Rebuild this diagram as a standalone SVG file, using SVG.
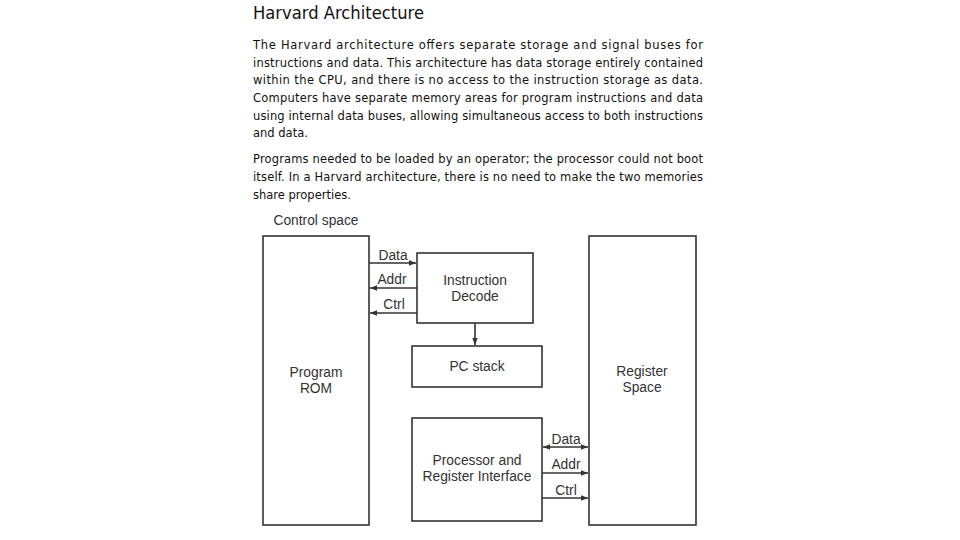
<svg xmlns="http://www.w3.org/2000/svg" width="960" height="540" viewBox="0 0 960 540">
<style>
.t{font-family:"DejaVu Sans","Liberation Sans",sans-serif;font-size:11.5px;fill:#111}
.h{font-family:"DejaVu Sans","Liberation Sans",sans-serif;font-size:17.5px;fill:#111}
.l{font-family:"Liberation Sans",Arial,sans-serif;font-size:13.8px;fill:#333;text-anchor:middle}
.box{fill:#fff;stroke:#333;stroke-width:1.6}
.c{stroke:#333;stroke-width:1.6;fill:none}
</style>
<defs>
<marker id="ah" markerWidth="8" markerHeight="8" refX="7" refY="4" orient="auto-start-reverse" markerUnits="userSpaceOnUse">
<path d="M0,1.3 L7,4 L0,6.7 Z" fill="#333"/>
</marker>
</defs>
<rect width="960" height="540" fill="#fff"/>
<text class="h" x="253" y="19" textLength="171" lengthAdjust="spacingAndGlyphs">Harvard Architecture</text>
<g id="paragraph">
<text class="t" x="253" y="49" textLength="450" lengthAdjust="spacing">The Harvard architecture offers separate storage and signal buses for</text>
<text class="t" x="253" y="66.5" textLength="450" lengthAdjust="spacing">instructions and data. This architecture has data storage entirely contained</text>
<text class="t" x="253" y="84" textLength="450" lengthAdjust="spacing">within the CPU, and there is no access to the instruction storage as data.</text>
<text class="t" x="253" y="102" textLength="450" lengthAdjust="spacing">Computers have separate memory areas for program instructions and data</text>
<text class="t" x="253" y="120" textLength="450" lengthAdjust="spacing">using internal data buses, allowing simultaneous access to both instructions</text>
<text class="t" x="253" y="137">and data.</text>
<text class="t" x="253" y="163" textLength="450" lengthAdjust="spacing">Programs needed to be loaded by an operator; the processor could not boot</text>
<text class="t" x="253" y="181" textLength="450" lengthAdjust="spacing">itself. In a Harvard architecture, there is no need to make the two memories</text>
<text class="t" x="253" y="199">share properties.</text>
</g>
<text class="l" x="316" y="225">Control space</text>
<g id="program-rom">
<rect class="box" x="263" y="236" width="106" height="289"/>
<text class="l" x="316" y="377">Program</text>
<text class="l" x="316" y="393">ROM</text>
</g>
<g id="instruction-decode">
<rect class="box" x="417" y="253" width="116" height="70"/>
<text class="l" x="475" y="285">Instruction</text>
<text class="l" x="475" y="301">Decode</text>
</g>
<g id="pc-stack">
<rect class="box" x="412" y="346" width="130" height="41"/>
<text class="l" x="477" y="371">PC stack</text>
</g>
<g id="processor-interface">
<rect class="box" x="412" y="418" width="130" height="103"/>
<text class="l" x="477" y="465">Processor and</text>
<text class="l" x="477" y="481">Register Interface</text>
</g>
<g id="register-space">
<rect class="box" x="589" y="236" width="107" height="289"/>
<text class="l" x="642" y="376">Register</text>
<text class="l" x="642" y="392">Space</text>
</g>
<g id="connectors">
<line class="c" x1="369" y1="263" x2="416" y2="263" marker-end="url(#ah)"/>
<line class="c" x1="417" y1="288" x2="370" y2="288" marker-end="url(#ah)"/>
<line class="c" x1="417" y1="313" x2="370" y2="313" marker-end="url(#ah)"/>
<line class="c" x1="475" y1="323" x2="475" y2="345" marker-end="url(#ah)"/>
<line class="c" x1="543" y1="447" x2="588" y2="447" marker-start="url(#ah)" marker-end="url(#ah)"/>
<line class="c" x1="542" y1="473" x2="588" y2="473" marker-end="url(#ah)"/>
<line class="c" x1="542" y1="498" x2="588" y2="498" marker-end="url(#ah)"/>
<text class="l" x="393" y="260">Data</text>
<text class="l" x="392" y="284">Addr</text>
<text class="l" x="394" y="309">Ctrl</text>
<text class="l" x="566" y="444">Data</text>
<text class="l" x="566" y="469">Addr</text>
<text class="l" x="566" y="495">Ctrl</text>
</g>
</svg>
